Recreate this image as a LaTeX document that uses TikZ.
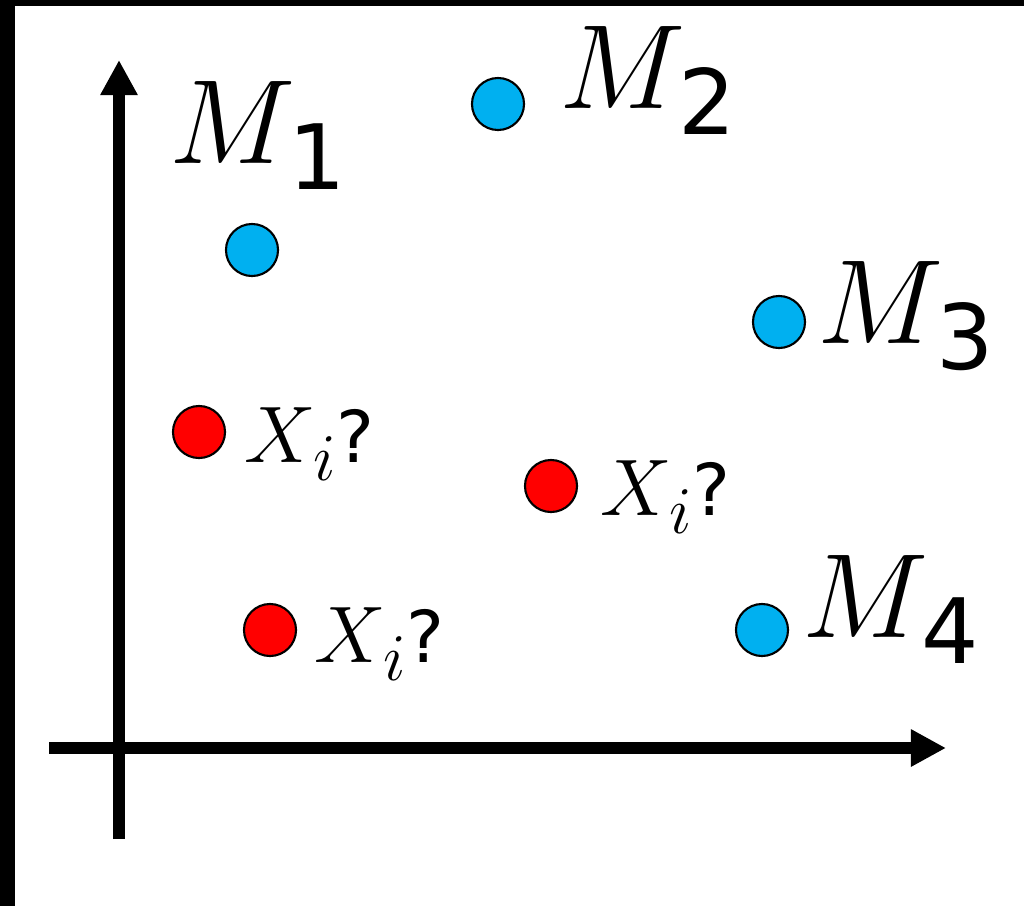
\documentclass[tikz,border=0pt]{standalone}
\usepackage{fontspec}
\usetikzlibrary{arrows.meta,positioning}
\newfontfamily\subfont{DejaVu Sans}
\definecolor{ptModel}{HTML}{00B0F0}
\definecolor{ptQuery}{HTML}{FF0000}
% model label: italic M with an upright sans index
\newcommand{\mlab}[1]{$M$\kern-1.1pt\raisebox{-4.5pt}{\subfont\fontsize{15.6}{18}\selectfont #1}}
% query label: X_i?
\newcommand{\qlab}{$X$\kern-0.6pt\raisebox{-4.7pt}{\fontsize{16.8}{20}\selectfont$i$}{\subfont\fontsize{18.5}{22}\selectfont ?}}
\tikzset{
  pt/.style={circle, draw, line width=0.6pt, inner sep=0pt, minimum size=5.2mm},
  modelpt/.style={pt, fill=ptModel},
  querypt/.style={pt, fill=ptQuery},
  axisline/.style={line width=1.2mm, -{Triangle[length=3.5mm,width=3.5mm]}},
  mlabel/.style={anchor=base west, inner sep=0pt, scale=1.645, font=\fontsize{20.74}{25}\selectfont},
  qlabel/.style={anchor=base west, inner sep=0pt, scale=1.1, font=\fontsize{20.74}{25}\selectfont}
}

\begin{document}
\begin{tikzpicture}[x=0.01cm, y=-0.01cm]
  \useasboundingbox[fill=white] (0,0) rectangle (1024,906);
  % frame edges
  \fill (0,0) rectangle (1024,6);
  \fill (0,0) rectangle (15,906);
  % axes
  \coordinate (ybot) at (119,839);
  \coordinate (ytop) at (119,60);
  \coordinate (xleft) at (49,748);
  \coordinate (xright) at (946,748);
  \draw[axisline] (ybot) -- (ytop);
  \draw[axisline] (xleft) -- (xright);
  % model points
  \node[modelpt] (m1) at (252,250) {};
  \node[modelpt] (m2) at (498,104) {};
  \node[modelpt] (m3) at (779,322) {};
  \node[modelpt] (m4) at (762,630) {};
  \node[mlabel] (m1lab) at (168,163) {\mlab{1}};
  \node[mlabel] (m2lab) at (558,108) {\mlab{2}};
  \node[mlabel] (m3lab) at (816,343) {\mlab{3}};
  \node[mlabel] (m4lab) at (801,637) {\mlab{4}};
  % query points
  \node[querypt] (q1) at (199,432) {};
  \node[querypt] (q2) at (551,486) {};
  \node[querypt] (q3) at (270,630) {};
  \node[qlabel] (q1lab) at (244,462) {\qlab};
  \node[qlabel] (q2lab) at (600,515) {\qlab};
  \node[qlabel] (q3lab) at (314,662) {\qlab};
\end{tikzpicture}
\end{document}
